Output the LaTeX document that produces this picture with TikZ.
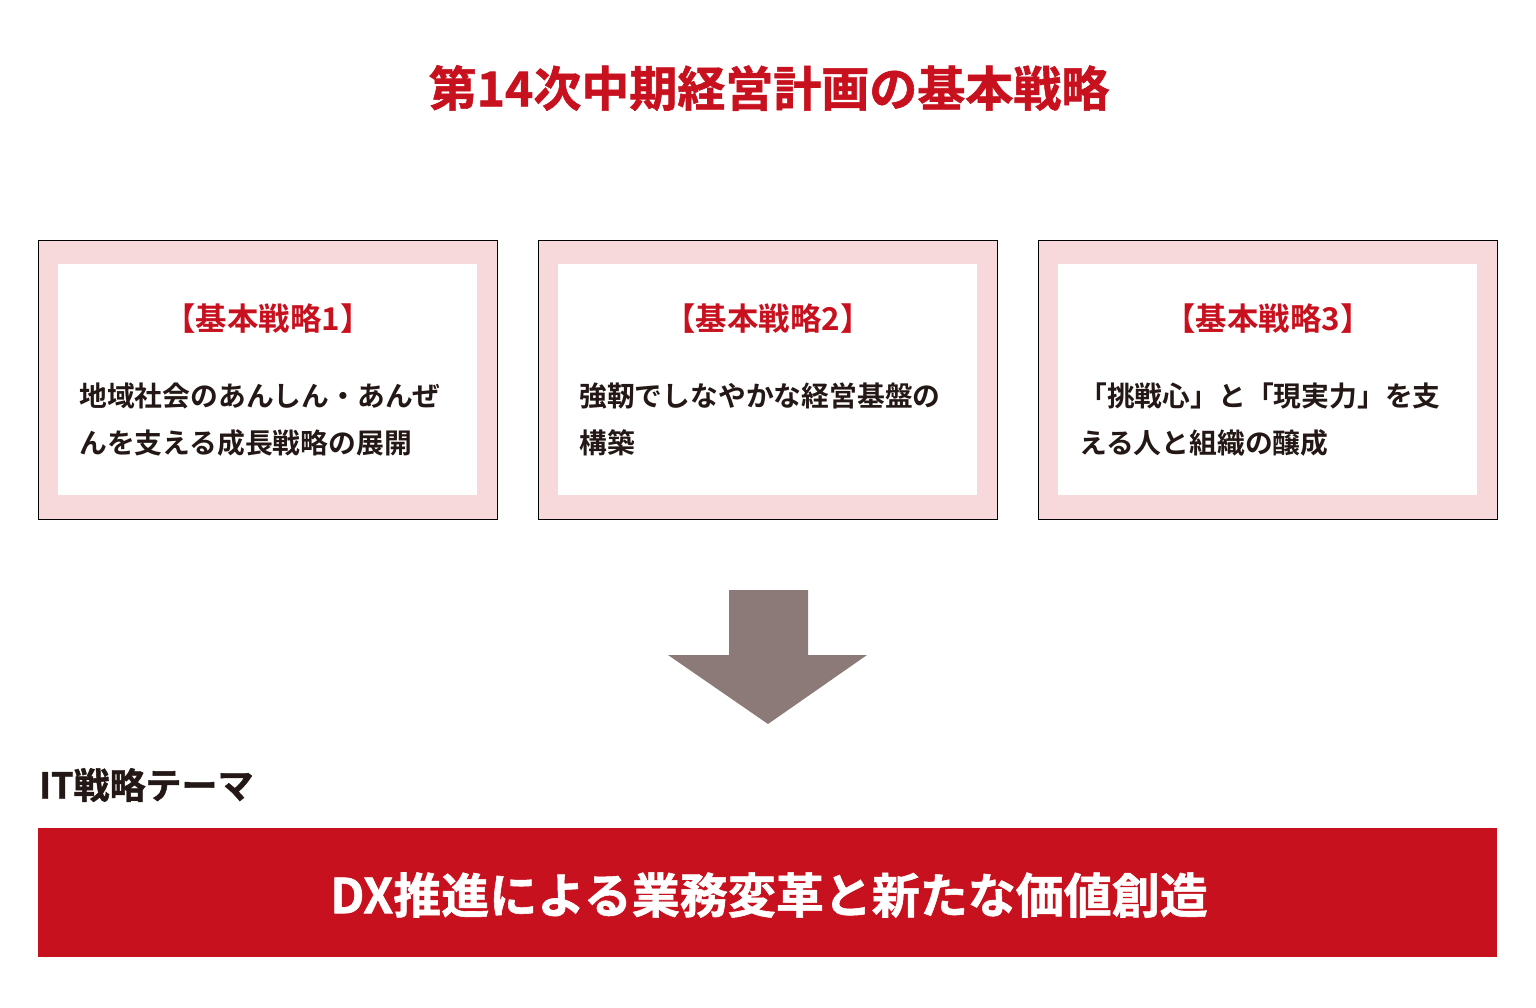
\documentclass[tikz,border=0pt]{standalone}
\usepackage{fontspec}
\setmainfont{Noto Sans CJK JP}[BoldFont={* Bold}]
\newfontfamily\jpheavy{Noto Sans CJK JP Bold}[FakeBold=1.2]
\definecolor{dxred}{HTML}{C8111E}
\definecolor{pinkbg}{HTML}{F7D9DC}
\definecolor{arrowc}{HTML}{8C7A78}
\definecolor{darktext}{HTML}{231815}
\begin{document}
\begin{tikzpicture}[x=1pt,y=-1pt,
  outerbox/.style={draw=black,line width=1pt,fill=pinkbg},
  innerbox/.style={fill=white},
  titletext/.style={inner sep=0pt,text=dxred,font=\jpheavy\fontsize{48}{56}\selectfont},
  headtext/.style={inner sep=0pt,text=dxred,font=\bfseries\fontsize{31.4}{36}\selectfont},
  bodytext/.style={inner sep=0pt,anchor=west,text=darktext,font=\bfseries\fontsize{27.8}{32}\selectfont},
  ittext/.style={inner sep=0pt,anchor=west,text=darktext,font=\jpheavy\fontsize{36}{42}\selectfont},
  bartext/.style={inner sep=0pt,text=white,font=\jpheavy\fontsize{48}{56}\selectfont}
]
\useasboundingbox (0,0) rectangle (1536,1008);
\fill[white] (0,0) rectangle (1536,1008);

\node[titletext] (title) at (769,88) {第14次中期経営計画の基本戦略};

% boxes
\foreach \i/\x in {1/38,2/538,3/1038}{
  \draw[outerbox] (\x,240.5) rectangle ++(459,279);
  \fill[innerbox] (\x+20,264) rectangle ++(419,231);
}
\node[headtext] (h1) at (268,319) {【基本戦略1】};
\node[headtext] (h2) at (768,319) {【基本戦略2】};
\node[headtext] (h3) at (1268,319) {【基本戦略3】};

\node[bodytext] (b1a) at (79,396) {地域社会のあんしん・あんぜ};
\node[bodytext] (b1b) at (79,443) {んを支える成長戦略の展開};
\node[bodytext] (b2a) at (579,396) {強靭でしなやかな経営基盤の};
\node[bodytext] (b2b) at (579,443) {構築};
\node[bodytext] (b3a) at (1079,396) {「挑戦心」と「現実力」を支};
\node[bodytext] (b3b) at (1079,443) {える人と組織の醸成};

% arrow
\fill[arrowc] (729,590) -- (808,590) -- (808,655) -- (867,655) -- (768,724) -- (668,655) -- (729,655) -- cycle;

\node[ittext] (it) at (39,785) {IT戦略テーマ};

\fill[dxred] (38,828) rectangle (1497,957);
\node[bartext] (bar) at (769,895) {DX推進による業務変革と新たな価値創造};
\end{tikzpicture}
\end{document}
